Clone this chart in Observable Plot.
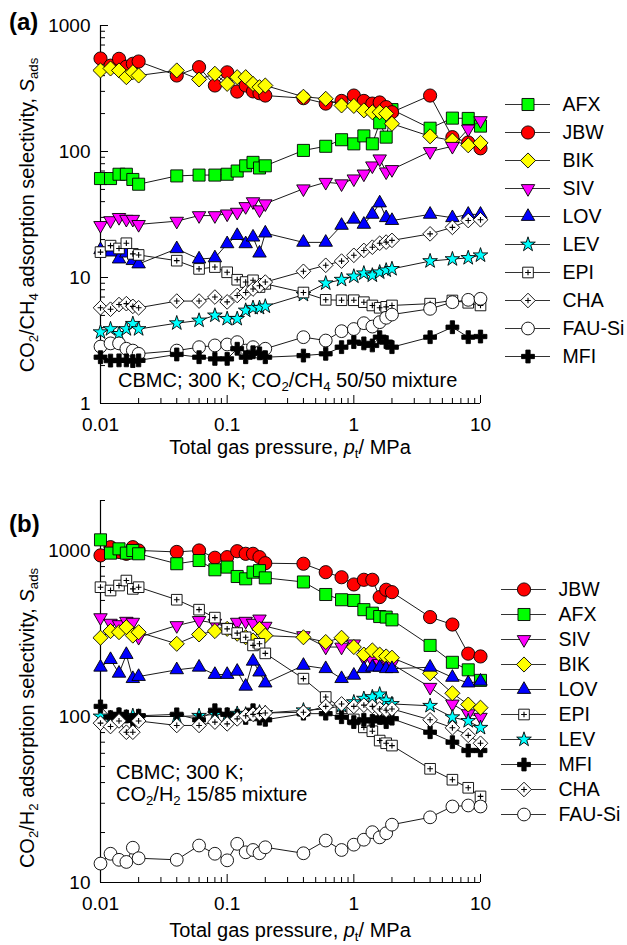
<!DOCTYPE html>
<html><head><meta charset="utf-8">
<script src="https://cdn.jsdelivr.net/npm/d3@7"></script>
<script src="https://cdn.jsdelivr.net/npm/@observablehq/plot@0.6"></script>
<style>
html,body{margin:0;padding:0;background:#fff;}
#wrap{position:relative;width:627px;height:945px;overflow:hidden;font-family:"Liberation Sans",Arial,sans-serif;color:#000;background:#fff;}
#wrap svg{position:absolute;overflow:visible}
.lbl{position:absolute;white-space:nowrap;font-size:20px;line-height:1;}
.big{font-size:20px}
.c{transform:translate(-50%,-50%)}
.l{transform:translate(0,-50%)}
.rot{transform:translate(-50%,-50%) rotate(-90deg)}
sub{font-size:0.66em;vertical-align:-0.32em;line-height:0}
.pl{font-weight:bold;font-size:24px}
</style></head><body><div id="wrap"></div>
<script>
// ---------- data ----------
const pressure = [0.01,0.012,0.014,0.016,0.018,0.02, 0.04,0.06,0.08,0.1,0.12,0.14,0.16,0.18,0.2, 0.4,0.6,0.8,1,1.2,1.4,1.6,1.8,2, 4,6,8,10];

// panel (a): CO2/CH4 selectivity
const a_AFX = [61,61,66,66,60,55, 64,65,65,66,70,77,82,74,77, 102,110,124,115,133,115,169,130,215, 153,184,183,159];
const a_JBW = [547,480,544,470,497,518, 401,467,334,425,299,334,300,290,278, 265,240,252,278,252,240,245,225,205, 278,130,118,106];
const a_BIK = [440,456,440,389,426,401, 440,373,414,344,389,389,344,324,334, 272,262,232,230,212,205,205,200,166, 132,122,112,117];
const a_SIV = [25.9,28.3,30,29,29,26.4, 28,31,31,32,33,36.6,40,34.5,38.5, 50.6,57,55.5,60.7,66.4,77,87.5,69,72, 100,110,151,176];
const a_LOV = [16.6,15.9,14,15.6,13.6,12.8, 16.9,14,14.3,18.5,21.5,18.5,20.9,15.6,22.5, 19,19,25.9,29,26.4,31.7,39,29.8,28.3, 31.7,29.8,31.7,31.7];
const a_LEV = [3.68,3.9,3.57,3.9,4.29,3.9, 4.34,4.56,5.0,4.7,4.7,5.47,5.75,5.75,5.9, 7.3,9.0,9.6,10.2,10.8,10.4,11.0,11.4,11.7, 13.5,14.0,14.3,15.0];
const a_EPI = [15.9,17.9,17.0,18.7,15.4,15.1, 13.6,11.7,12.1,11.0,9.6,9.2,9.5,8.4,8.9, 7.6,6.65,6.6,6.6,6.37,6.0,5.75,5.85,6.0, 6.2,6.57,6.3,6.0];
const a_CHA = [5.75,5.6,6.1,6.2,5.9,5.75, 6.5,6.5,7.0,6.4,7.2,7.6,8.1,8.6,9.2, 11.2,12.5,13.5,15,16.4,17.4,18.7,19.1,19.7, 22.2,25,28.3,28.7];
const a_FAU = [2.83,3.0,3.0,2.72,2.63,2.48, 2.63,2.8,2.89,2.94,3.07,2.63,2.8,2.55,2.72, 3.36,3.16,3.75,3.9,4.34,4.08,4.42,4.79,5.08, 5.64,6.37,6.65,6.78];
const a_MFI = [2.33,2.19,2.2,2.2,2.17,2.2, 2.45,2.33,2.26,2.26,2.72,2.33,2.55,2.5,2.33, 2.4,2.48,2.8,3.07,3.0,2.89,3.36,3.07,2.8, 3.36,4.03,3.36,3.4];

// panel (b): CO2/H2 selectivity
const b_JBW = [934,1047,980,955,1047,1000, 980,1000,904,912,990,955,955,912,838, 832,740,690,624,666,666,524,580,561, 397,358,239,230];
const b_AFX = [1159,964,1023,964,1000,955, 832,870,765,794,697,675,740,756,684, 646,543,505,500,440,419,400,397,382, 268,212,191,165];
const b_SIV = [394,365,358,375,370,300, 353,379,365,345,370,375,365,387,350, 307,262,262,274,225,217,209,217,207, 150,119,104,99];
const b_BIK = [298,327,322,345,307,322, 274,312,327,337,315,300,287,337,307, 300,281,298,262,236,250,236,230,226, 182,138,118,113];
const b_LOV = [198,220,182,236,169,174, 191,198,179,179,187,152,215,185,159, 203,194,169,177,194,198,198,194,194, 198,172,159,163];
const b_EPI = [601,574,615,659,587,601, 505,440,394,337,318,300,268,274,240, 169,131,112,96,86,81.5,71.6,69,66.8, 48.4,41.6,37.2,33];
const b_LEV = [100,98,102,99,101,100, 100,101,103,102,104,103,105,106,105, 109,111,116,122,128,131,136,125,119, 116,99,94,85.5];
const b_MFI = [115,99,103,100,95,101, 103,95.5,109,103,101,98,109,97,95.5, 104,104,99,92.5,95.5,94,98,92.5,97, 80.4,70,62.4,62.4];
const b_CHA = [91.2,87,94,80.4,80.4,94, 88.3,88.3,92.5,90.3,96.8,101,103,104,105, 106,115,119,115,117,115,111,109,111, 95.5,85.5,77,69];
const b_FAU = [13.0,14.9,13.7,13.3,16.2,14.0, 13.7,16.7,14.9,13.6,17.1,15.2,15.7,15.0,16.3, 15.0,17.9,15.7,16.9,18.1,20.1,18.7,19.8,22.3, 24.7,28.7,29.1,28.7];

const seriesA = ["AFX","JBW","BIK","SIV","LOV","LEV","EPI","CHA","FAU","MFI"];
const valuesA = {AFX:a_AFX,JBW:a_JBW,BIK:a_BIK,SIV:a_SIV,LOV:a_LOV,LEV:a_LEV,EPI:a_EPI,CHA:a_CHA,FAU:a_FAU,MFI:a_MFI};
const seriesB = ["JBW","AFX","SIV","BIK","LOV","EPI","LEV","MFI","CHA","FAU"];
const valuesB = {JBW:b_JBW,AFX:b_AFX,SIV:b_SIV,BIK:b_BIK,LOV:b_LOV,EPI:b_EPI,LEV:b_LEV,MFI:b_MFI,CHA:b_CHA,FAU:b_FAU};
const labels = {AFX:"AFX",JBW:"JBW",BIK:"BIK",SIV:"SIV",LOV:"LOV",LEV:"LEV",EPI:"EPI",CHA:"CHA",FAU:"FAU-Si",MFI:"MFI"};

// tick values
const xMajor = [0.01,0.1,1,10];
const xMinor = [0.02,0.03,0.04,0.05,0.06,0.07,0.08,0.09,0.2,0.3,0.4,0.5,0.6,0.7,0.8,0.9,2,3,4,5,6,7,8,9];
const aYMajor = [1,10,100,1000];
const aYMinor = [2,3,4,5,6,7,8,9,20,30,40,50,60,70,80,90,200,300,400,500,600,700,800,900];
const bYMajor = [10,100,1000];
const bYMinor = [20,30,40,50,60,70,80,90,200,300,400,500,600,700,800,900,2000];

// ---------- styles ----------
const triDown = {draw(ctx, size){ const y = Math.sqrt(size/(Math.sqrt(3)*3)); ctx.moveTo(0, y*2); ctx.lineTo(-Math.sqrt(3)*y, -y); ctx.lineTo(Math.sqrt(3)*y, -y); ctx.closePath(); }};
const styleMap = {
  AFX: [{symbol:"square", fill:"#00ff00", r:6.8}],
  JBW: [{symbol:"circle", fill:"#ff0000", r:6.6}],
  BIK: [{symbol:"diamond2", fill:"#ffff00", r:6.8}],
  SIV: [{symbol:triDown, fill:"#ff00ff", r:5}],
  LOV: [{symbol:"triangle", fill:"#0000ff", r:5}],
  LEV: [{symbol:"star", fill:"#00ffff", r:4.6}],
  EPI: [{symbol:"square", fill:"#ffffff", r:6},{symbol:"plus", fill:"none", r:2}],
  CHA: [{symbol:"diamond2", fill:"#ffffff", r:6.6},{symbol:"plus", fill:"none", r:2}],
  FAU: [{symbol:"circle", fill:"#ffffff", r:6.4}],
  MFI: [{symbol:"cross", fill:"#000000", r:5.4}]
};
function dotMarks(data, key, extra) {
  return styleMap[key].map(s => Plot.dot(data, {
    ...extra, symbol: s.symbol, r: s.r, fill: s.fill, stroke: "#000", strokeWidth: s.fill === "none" ? 1.1 : 0.9
  }));
}

const W = 627, ML = 100, MR = 147;
const fontFamily = "Liberation Sans, Arial, sans-serif";

function panel({series, values, yDomain, yMajor, yMinor, height, marginTop, marginBottom}) {
  const fw = W - ML - MR, fh = height - marginTop - marginBottom;
  const marks = [
    Plot.ruleX([0.01], {stroke:"#000", strokeWidth:1.2}),
    Plot.ruleY([yDomain[0]], {stroke:"#000", strokeWidth:1.2}),
    Plot.tickY(yMajor, {y: d=>d, insetRight: fw-8, stroke:"#000"}),
    Plot.tickY(yMinor, {y: d=>d, insetRight: fw-5, stroke:"#000"}),
    Plot.tickX(xMajor, {x: d=>d, insetTop: fh-8, stroke:"#000"}),
    Plot.tickX(xMinor, {x: d=>d, insetTop: fh-5, stroke:"#000"}),
    Plot.axisY({ticks: yMajor, tickSize:0, tickPadding:10, tickFormat: d=>String(d), fontSize:19, label:null}),
    Plot.axisX({ticks: xMajor, tickSize:0, tickPadding:14, tickFormat: d=>String(d), fontSize:19, label:null})
  ];
  for (const key of series) {
    const rows = pressure.map((p,i) => ({p, v: values[key][i]}));
    marks.push(Plot.line(rows, {x:"p", y:"v", stroke:"#1a1a1a", strokeWidth:1}));
    marks.push(...dotMarks(rows, key, {x:"p", y:"v"}));
  }
  return Plot.plot({
    width: W, height, marginLeft: ML, marginRight: MR, marginTop, marginBottom,
    x: {type:"log", domain:[0.01,10], axis:null, label:null},
    y: {type:"log", domain:yDomain, axis:null, label:null},
    style: {fontFamily, fontSize:"19px", background:"transparent", color:"#000", overflow:"visible"},
    marks
  });
}

function legend(series, {height, mt, mb, left}) {
  const w = W - left;
  const marks = [Plot.ruleY(series, {y: d=>d, stroke:"#333", strokeWidth:1})];
  for (const key of series) marks.push(...dotMarks([key], key, {y: d=>d}));
  marks.push(Plot.text(series, {y: d=>d, text: d=>labels[d], frameAnchor:"right", textAnchor:"start", dx:12, fontSize:19.5, fill:"#000"}));
  return Plot.plot({
    width: w, height, marginLeft:5, marginRight: w-50, marginTop: mt, marginBottom: mb,
    x: {axis:null}, y: {type:"point", domain: series, padding:0, axis:null, label:null},
    style: {fontFamily, fontSize:"19.5px", background:"transparent", overflow:"visible"},
    marks
  });
}

const wrap = document.getElementById("wrap");
function place(el, left, top) { el.style.left = left+"px"; el.style.top = top+"px"; wrap.appendChild(el); }

place(panel({series: seriesA, values: valuesA, yDomain:[1,1000], yMajor:aYMajor, yMinor:aYMinor, height:472, marginTop:25, marginBottom:69}), 0, 0);
place(panel({series: seriesB, values: valuesB, yDomain:[10,2000], yMajor:bYMajor, yMinor:bYMinor, height:473, marginTop:28, marginBottom:63}), 0, 472);
place(legend(seriesA, {height:280, mt:13, mb:13, left:500}), 500, 90);
place(legend(seriesB, {height:260, mt:13, mb:14, left:496}), 496, 572);

function label(html, cls, x, y) {
  const d = document.createElement("div");
  d.className = "lbl " + cls; d.innerHTML = html;
  d.style.left = x+"px"; d.style.top = y+"px";
  wrap.appendChild(d);
}
label("(a)", "pl l", 9, 22);
label("(b)", "pl l", 9, 524);
label("CO<sub>2</sub>/CH<sub>4</sub> adsorption selectivity, <i>S</i><sub>ads</sub>", "rot", 27, 215);
label("CO<sub>2</sub>/H<sub>2</sub> adsorption selectivity, <i>S</i><sub>ads</sub>", "rot", 27, 718);
label("Total gas pressure, <i>p</i><sub>t</sub>/ MPa", "c", 290, 447);
label("Total gas pressure, <i>p</i><sub>t</sub>/ MPa", "c", 290, 930);
label("CBMC; 300 K; CO<sub>2</sub>/CH<sub>4</sub> 50/50 mixture", "l big", 118, 380);
label("CBMC; 300 K;", "l big", 116, 772);
label("CO<sub>2</sub>/H<sub>2</sub> 15/85 mixture", "l big", 116, 794);
</script></body></html>
